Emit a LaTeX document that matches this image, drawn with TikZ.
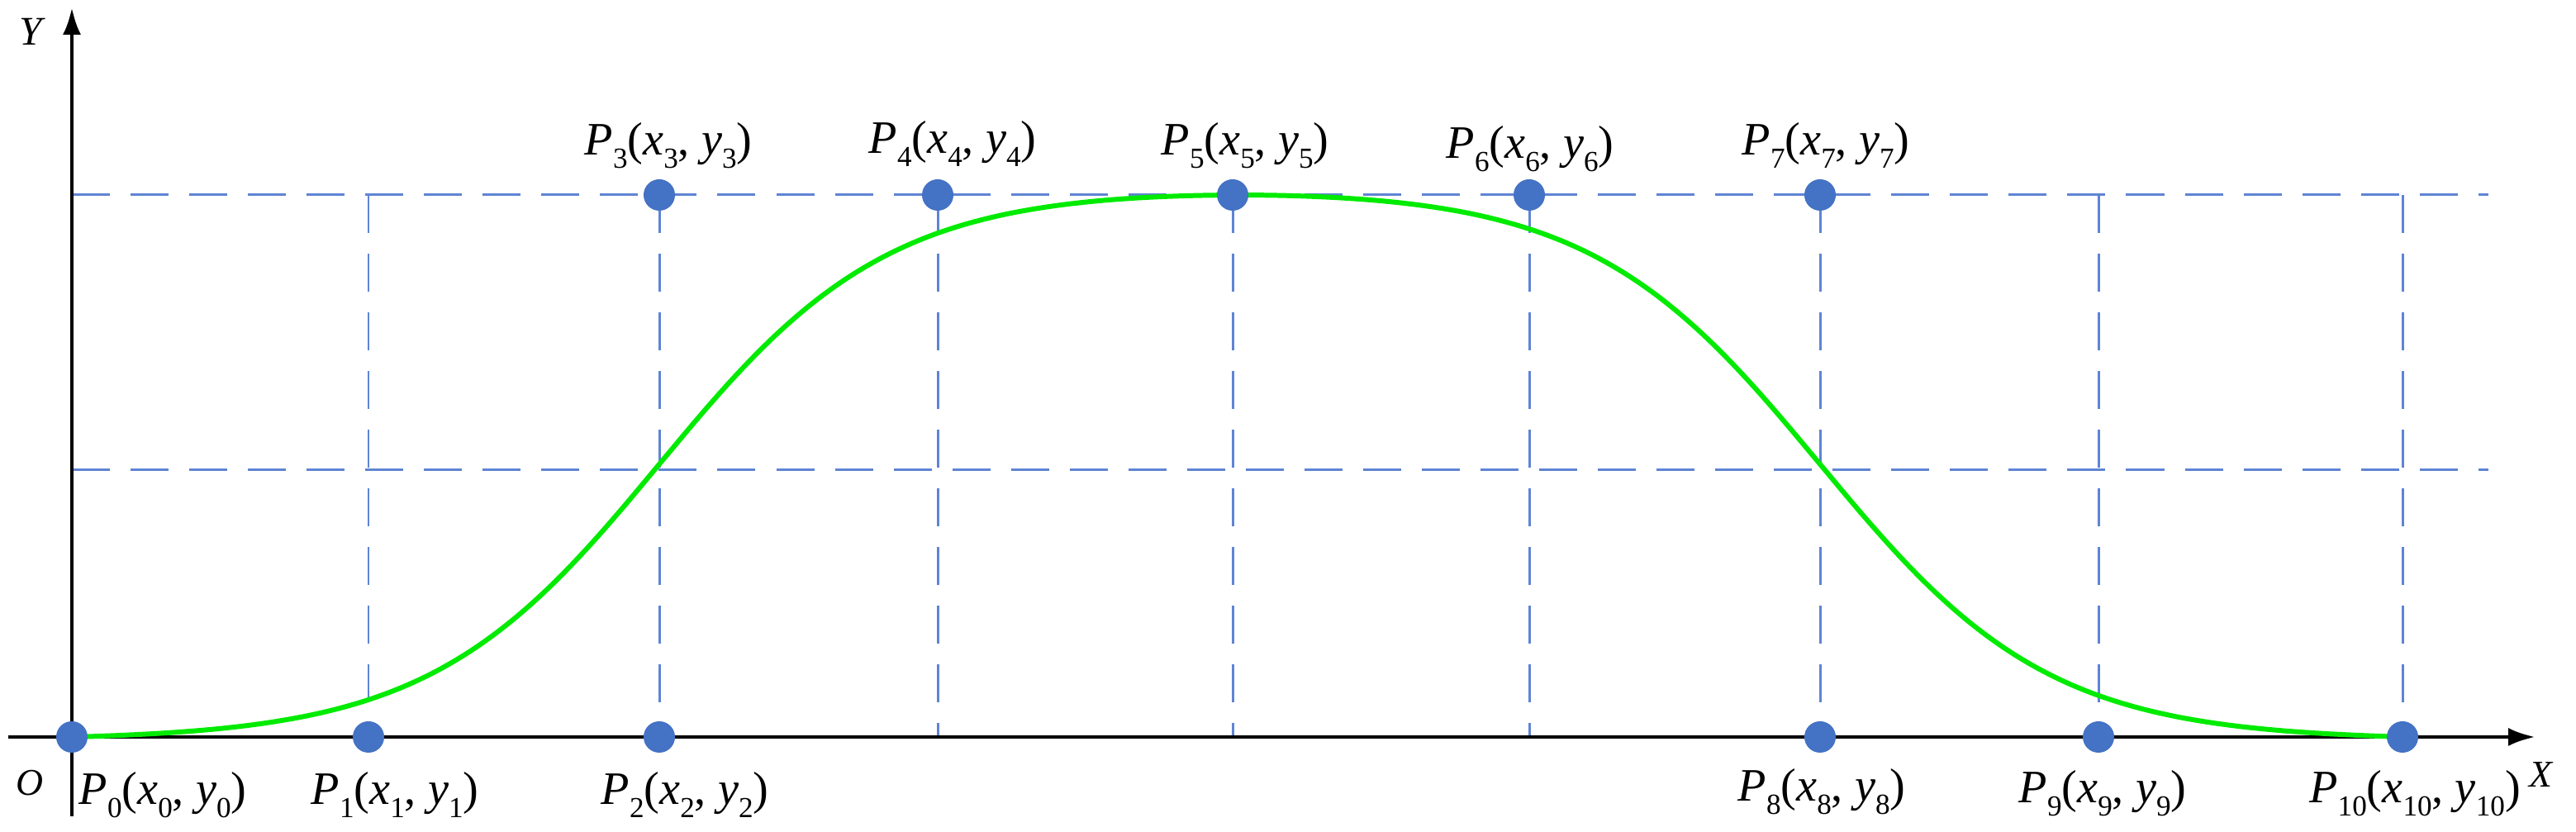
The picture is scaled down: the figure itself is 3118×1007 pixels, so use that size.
\documentclass[tikz,border=0pt]{standalone}
\usepackage{fontspec}
\setmainfont{Liberation Serif}
\usetikzlibrary{arrows.meta}

\definecolor{dotblue}{RGB}{68,114,196}
\definecolor{gridblue}{RGB}{95,132,212}
\definecolor{profgreen}{RGB}{0,235,0}
\newcommand{\lowsub}[1]{\raisebox{-4.5pt}{\fontsize{10pt}{10pt}\selectfont #1}}
\newcommand{\ptxt}[1]{\textit{P}\lowsub{#1}(\textit{x}\lowsub{#1}, \textit{y}\lowsub{#1})}

\begin{document}
\begin{tikzpicture}[
  x=0.01cm, y=0.01cm,
  >={Latex[length=0.33cm,width=0.22cm]},
  pdot/.style={circle, fill=dotblue, inner sep=0pt, minimum size=0.38cm},
  guide/.style={gridblue, line width=0.85pt, dash pattern=on 0.46cm off 0.25cm},
  axisline/.style={line width=1.4pt},
  profile/.style={profgreen, line width=1.7pt},
  lbl/.style={font=\fontsize{16pt}{18pt}\selectfont, inner sep=0pt, anchor=base},
  axlbl/.style={font=\fontsize{13pt}{15pt}\selectfont\itshape, inner sep=0pt, anchor=base}
]
\useasboundingbox (-87,-115) rectangle (3031,892);

% control points
\coordinate (c0) at (0,0);
\coordinate (c1) at (359,0);
\coordinate (c2) at (711,0);
\coordinate (c3) at (711,656);
\coordinate (c4) at (1048,656);
\coordinate (c5) at (1405,656);
\coordinate (c6) at (1764,656);
\coordinate (c7) at (2116,656);
\coordinate (c8) at (2116,0);
\coordinate (c9) at (2453,0);
\coordinate (c10) at (2821,0);

% guide ends
\coordinate (ytop) at (0,656);
\coordinate (etop) at (2925,656);
\coordinate (ymid) at (0,323);
\coordinate (emid) at (2925,323);
\coordinate (t1) at (359,656);
\coordinate (t9) at (2453,656);
\coordinate (t10) at (2821,656);
\coordinate (f4) at (1048,0);
\coordinate (f5) at (1405,0);
\coordinate (f6) at (1764,0);

\draw[guide] (ytop) -- (etop);
\draw[guide] (ymid) -- (emid);
\draw[guide] (t1) -- (c1);
\draw[guide] (c3) -- (c2);
\draw[guide] (c4) -- (f4);
\draw[guide] (c5) -- (f5);
\draw[guide] (c6) -- (f6);
\draw[guide] (c7) -- (c8);
\draw[guide] (t9) -- (c9);
\draw[guide] (t10) -- (c10);

% axes
\coordinate (xs) at (-77,0);
\coordinate (xe) at (2982,0);
\coordinate (ys) at (0,-96);
\coordinate (ye) at (0,883);
\draw[axisline,->] (xs) -- (xe);
\draw[axisline,->] (ys) -- (ye);

% s-curve
\draw[profile] plot[domain=0:2821, samples=200, smooth]
  (\x, {334.2*(tanh(0.0036*(\x-711))-tanh(0.0036*(\x-2116))-0.0121)});

\node[pdot] (p0) at (c0) {};
\node[pdot] (p1) at (c1) {};
\node[pdot] (p2) at (c2) {};
\node[pdot] (p3) at (c3) {};
\node[pdot] (p4) at (c4) {};
\node[pdot] (p5) at (c5) {};
\node[pdot] (p6) at (c6) {};
\node[pdot] (p7) at (c7) {};
\node[pdot] (p8) at (c8) {};
\node[pdot] (p9) at (c9) {};
\node[pdot] (p10) at (c10) {};

\node[lbl] (l0) at (110,-82) {\ptxt{0}};
\node[lbl] (l1) at (391,-82) {\ptxt{1}};
\node[lbl] (l2) at (742,-82) {\ptxt{2}};
\node[lbl] (l3) at (722,704) {\ptxt{3}};
\node[lbl] (l4) at (1066,706) {\ptxt{4}};
\node[lbl] (l5) at (1420,704) {\ptxt{5}};
\node[lbl] (l6) at (1765,700) {\ptxt{6}};
\node[lbl] (l7) at (2123,704) {\ptxt{7}};
\node[lbl] (l8) at (2118,-78) {\ptxt{8}};
\node[lbl] (l9) at (2458,-80) {\ptxt{9}};
\node[lbl] (l10) at (2836,-80) {\ptxt{10}};

\node[axlbl, font=\fontsize{14pt}{16pt}\selectfont\itshape] (ylab) at (-50,837) {Y};
\node[axlbl] (xlab) at (2988,-61) {X};
\node[axlbl] (olab) at (-51,-71) {O};
\end{tikzpicture}
\end{document}
